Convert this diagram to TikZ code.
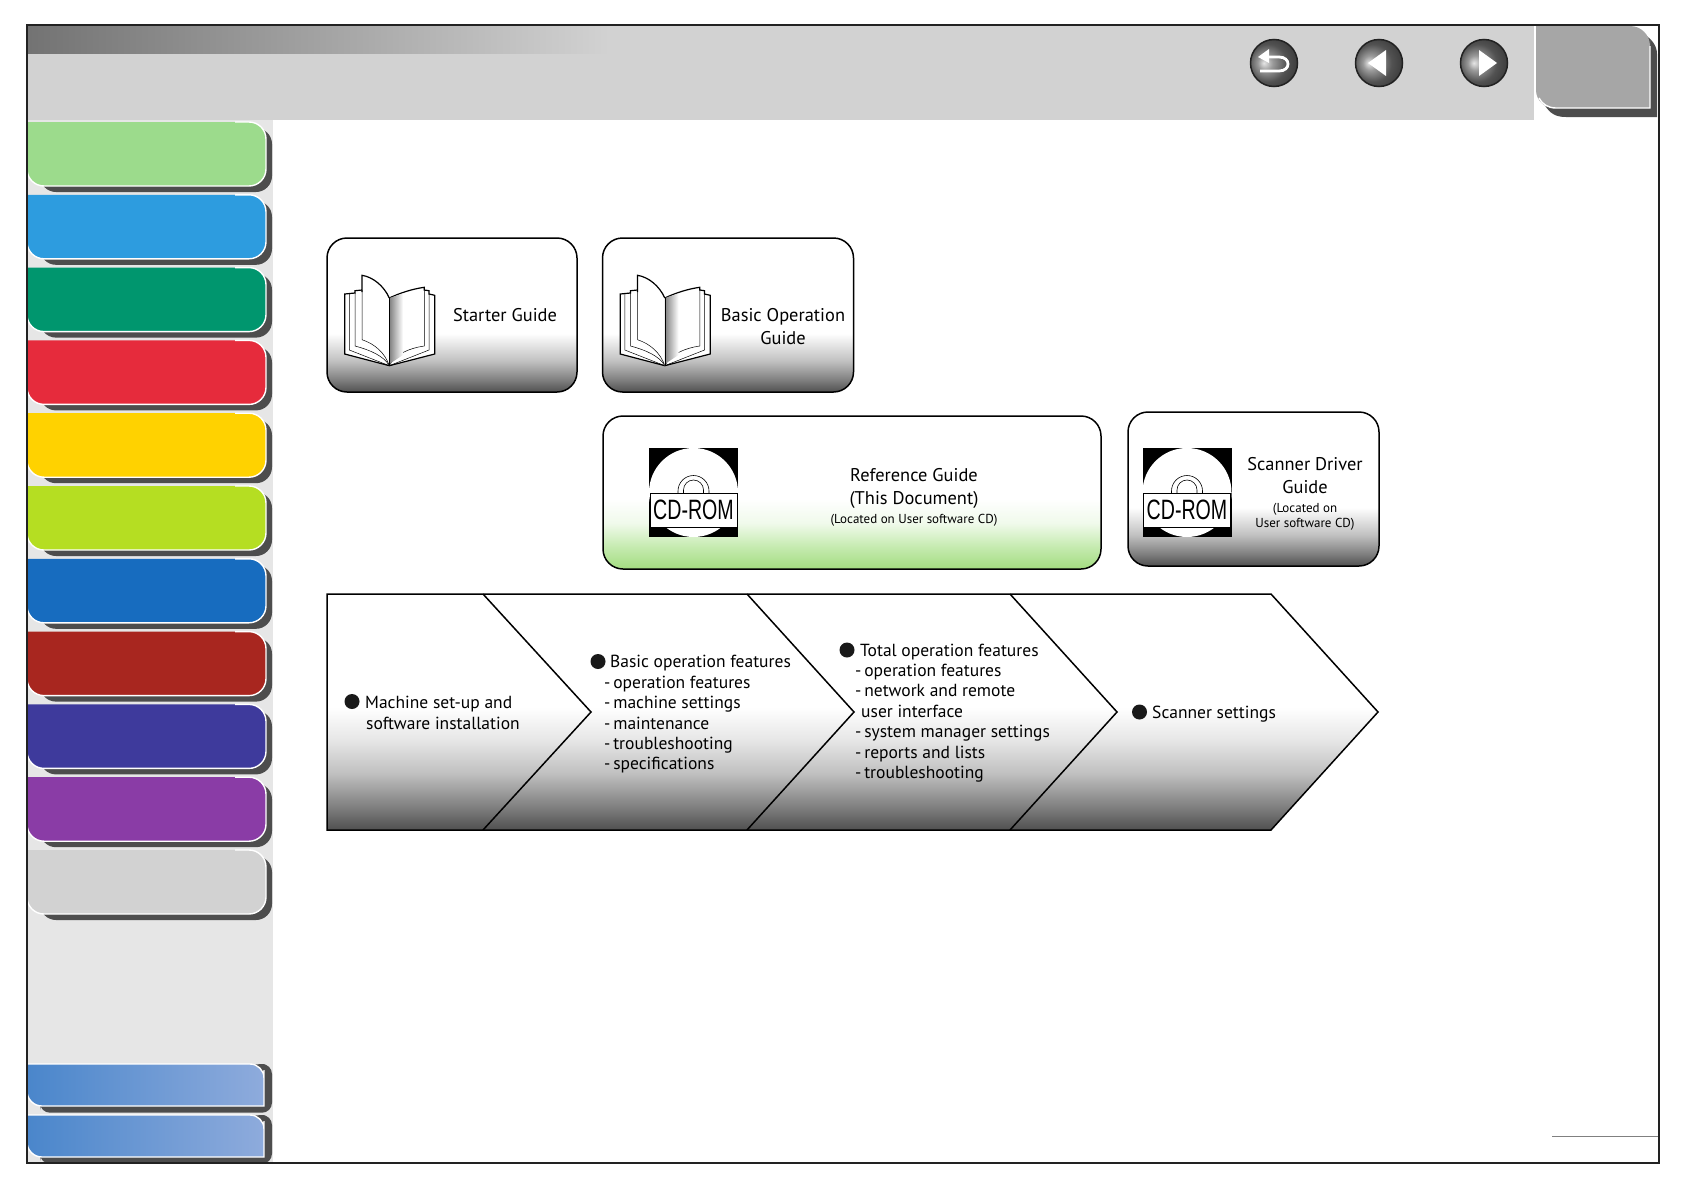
\documentclass[tikz,border=0pt]{standalone}
\usepackage{fontspec}
\setmainfont{PT Sans}
\newfontfamily\cdfont{Liberation Sans}
\definecolor{headgray}{HTML}{D2D2D2}
\definecolor{sidegray}{HTML}{E6E6E6}
\definecolor{tabshadow}{HTML}{4D4D4D}
\definecolor{framecol}{HTML}{222222}
\definecolor{tabmint}{HTML}{9CDB8C}
\definecolor{tabsky}{HTML}{2D9CDF}
\definecolor{tabteal}{HTML}{00966E}
\definecolor{tabred}{HTML}{E62B3C}
\definecolor{tabyellow}{HTML}{FFD200}
\definecolor{tablime}{HTML}{B5DE22}
\definecolor{tabblue}{HTML}{176CBF}
\definecolor{tabbrick}{HTML}{A8261F}
\definecolor{tabindigo}{HTML}{3E3A9C}
\definecolor{tabviolet}{HTML}{8A3CA6}
\definecolor{bluedeep}{HTML}{4A86CB}
\definecolor{bluemid}{HTML}{5B90D0}
\definecolor{bluepale}{HTML}{8EABDC}
\definecolor{fadeA}{HTML}{505050}
\definecolor{fadeB}{HTML}{808080}
\definecolor{fadeC}{HTML}{C0C0C0}
\definecolor{fadeD}{HTML}{E6E6E6}
\definecolor{greenA}{HTML}{A3DC80}
\definecolor{greenB}{HTML}{C4EAAE}
\definecolor{greenC}{HTML}{F0FAEB}
\pgfdeclareverticalshading{guidefade}{100bp}{color(0bp)=(fadeA); color(25bp)=(fadeA); color(29bp)=(fadeB); color(35bp)=(fadeC); color(44bp)=(white); color(100bp)=(white)}
\pgfdeclareverticalshading{stagefade}{100bp}{color(0bp)=(fadeA); color(25bp)=(fadeA); color(30bp)=(fadeB); color(37bp)=(fadeC); color(44bp)=(fadeD); color(51bp)=(white); color(100bp)=(white)}
\pgfdeclareverticalshading{greenfade}{100bp}{color(0bp)=(greenA); color(25bp)=(greenA); color(32bp)=(greenB); color(40bp)=(greenC); color(48bp)=(white); color(100bp)=(white)}
\pgfdeclareradialshading{btnglow}{\pgfpoint{-11bp}{0bp}}{color(0bp)=(black!10); color(8bp)=(black!40); color(20bp)=(black!68); color(34bp)=(black!80); color(50bp)=(black!80)}
\tikzset{
  guidebox/.style={draw=black,line width=1.5pt,rounded corners=20pt,shading=guidefade,inner sep=0pt},
  greenbox/.style={guidebox,shading=greenfade},
  guidetext/.style={align=center,inner sep=0pt,font=\fontsize{18.4}{23}\selectfont},
  smalltext/.style={align=center,inner sep=0pt,font=\fontsize{13}{15}\selectfont},
  stagetext/.style={align=left,anchor=west,inner sep=0pt,font=\fontsize{17.5}{20.4}\selectfont},
  stagedot/.style={circle,fill=black!90,inner sep=0pt,minimum size=15pt},
  navbtn/.style={circle,draw=framecol,line width=1.5pt,inner sep=0pt,minimum size=47pt,shading=btnglow},
  tabedge/.style={draw=white,line width=1.4pt},
  pics/bookicon/.style={code={
    \filldraw[fill=white,line width=1.2pt] (4.7,26) -- (4.7,86) -- (49.3,97.7) -- (94.7,86) -- (94.7,27.3) -- (89,26) -- (89,22.7) -- (84.3,22) -- (84.3,19.3) .. controls (72,21) and (60,25) .. (49.3,30) -- (22,22) -- (15,22.7) -- (15,25) -- (4.7,26) -- cycle;
    \draw[line width=.5pt] (9.3,26) -- (9.3,82) -- (49.3,97.7);
    \draw[line width=.5pt] (15,25) -- (15,78) .. controls (30,82) and (44,88) .. (49.3,97.7);
    \draw[line width=.5pt] (89,26) -- (89,82) -- (49.3,97.7);
    \draw[line width=.5pt] (84.3,22) -- (84.3,78) .. controls (70,80) and (55,86) .. (49.3,97.7);
    \fill[white] (22,7.3) .. controls (33,9) and (44,18) .. (49.3,30) -- (49.3,97.7) .. controls (45,85) and (35,76) .. (22,71.7) -- cycle;
    \shade[left color=black!50,right color=white] (49.3,30) -- (63,25.5) -- (63,87) -- (49.3,96) -- cycle;
    \draw[line width=.5pt] (22,22) -- (22,71.7) .. controls (35,76) and (45,85) .. (49.3,97.7);
    \draw[line width=1.2pt,line join=miter] (22,24) -- (22,7.3) .. controls (33,9) and (44,18) .. (49.3,30);
    \draw[line width=.5pt] (49.3,30) -- (49.3,97.7);
  }},
  pics/cdicon/.style={code={
    \fill[black] (0,0) rectangle (89,89);
    \fill[white] (44.5,44.5) circle[radius=44.5];
    \draw[line width=.6pt] (29,45) -- (29,43) arc[start angle=180,end angle=360,radius=15.5] -- (60,45);
    \draw[line width=.6pt] (34.5,45) -- (34.5,42) arc[start angle=180,end angle=360,radius=10] -- (54.5,45);
    \filldraw[fill=white,draw=black,line width=.8pt] (1,45) rectangle (88,79);
    \node[inner sep=0pt,xscale=.7,transform shape,font=\cdfont\fontsize{28}{28}\selectfont] (-label) at (44.5,62) {CD-ROM};
  }}
}
\newcommand{\sidetab}[2]{
  \fill[tabshadow,rounded corners=16pt] (40,#1+10) -- (272,#1+6) -- (272,#1+70) -- (40,#1+70) -- cycle;
  \fill[#2,rounded corners=17pt] (27,#1) -- (266,#1) -- (266,#1+64) -- (27,#1+64) -- (27,#1+40) [sharp corners] -- (27,#1) -- cycle;
  \draw[tabedge,rounded corners=17pt] (235,#1) -- (266,#1) -- (266,#1+64) -- (27,#1+64) -- (27,#1+40);
}
\newcommand{\bluetab}[1]{
  \fill[tabshadow,rounded corners=10pt] (40,#1+36) -- (40,#1+48.7) -- (272,#1+48.7) -- (272,#1) -- (255,#1) -- cycle;
  \shade[left color=bluedeep,middle color=bluemid,right color=bluepale,rounded corners=14pt,draw=white,line width=1.4pt] (27,#1) -- (264,#1) -- (264,#1+20) [sharp corners] -- (264,#1+42) [rounded corners=15pt] -- (27,#1+42) -- (27,#1+22) [sharp corners] -- (27,#1) -- cycle;
}
\newcommand{\subdash}{-\hspace{2.8pt}}
\begin{document}
\begin{tikzpicture}[x=1pt,y=-1pt]
\useasboundingbox (0,0) rectangle (1684,1191);
\fill[white] (0,0) rectangle (1684,1191);

\fill[headgray] (27,25) rectangle (1534,120);
\shade[left color=black!55,right color=headgray] (27,25) rectangle (610,53);
\fill[sidegray] (27,120) rectangle (273,1163);

\sidetab{122}{tabmint}
\sidetab{194.8}{tabsky}
\sidetab{267.6}{tabteal}
\sidetab{340.4}{tabred}
\sidetab{413.2}{tabyellow}
\sidetab{486}{tablime}
\sidetab{558.8}{tabblue}
\sidetab{631.6}{tabbrick}
\sidetab{704.4}{tabindigo}
\sidetab{777.2}{tabviolet}
\sidetab{850}{headgray}
\bluetab{1064}
\bluetab{1115}

\fill[tabshadow] (1640,32) .. controls (1652,38) and (1657,46) .. (1657,54) -- (1657,117) -- (1566,117) .. controls (1556,117) and (1550,114) .. (1544,104) -- cycle;
\fill[black!35,rounded corners=20pt] (1536,26) -- (1650,26) -- (1650,60) [sharp corners] -- (1650,108) [rounded corners=18pt] -- (1536,108) -- (1536,70) [sharp corners] -- (1536,26) -- cycle;
\draw[tabedge] (1650,46) -- (1650,108) -- (1556,108) .. controls (1548,108) and (1542,104) .. (1539,98);

\node[navbtn] (backbtn) at (1274,63) {};
\node[navbtn] (prevbtn) at (1379,63) {};
\node[navbtn] (nextbtn) at (1484,63) {};
\fill[white] (1258,57) -- (1269,49) -- (1269,63) -- cycle;
\draw[white,line width=2.8pt] (1267,57) -- (1279,57) .. controls (1291,57) and (1291,71) .. (1279,71) -- (1260,71);
\fill[white] (1368,63) -- (1386,50) -- (1386,76) -- cycle;
\fill[white] (1497,63) -- (1479,50) -- (1479,76) -- cycle;

\node[guidebox,minimum width=250pt,minimum height=154pt] (starterbox) at (452,315) {};
\node[guidebox,minimum width=251pt,minimum height=154pt] (basicbox) at (728,315) {};
\node[greenbox,minimum width=498pt,minimum height=153pt] (refbox) at (852,492.5) {};
\node[guidebox,minimum width=251pt,minimum height=154pt] (scanbox) at (1253.5,489) {};

\pic (starterbook) at (340,268) {bookicon};
\pic (basicbook) at (615.5,268) {bookicon};
\pic (refcd) at (649,448) {cdicon};
\pic (scancd) at (1142.5,448) {cdicon};

\node[guidetext] (startertext) at (505,315) {Starter Guide};
\node[guidetext] (basictext) at (783,326.5) {Basic Operation\\Guide};
\node[guidetext] (reftext) at (914,488.5) {Reference Guide\\(This Document)};
\node[smalltext] (refnote) at (914,520.5) {(Located on User software CD)};
\node[guidetext] (scantext) at (1305,476) {Scanner Driver\\Guide};
\node[smalltext] (scannote) at (1305,516.5) {(Located on\\User software CD)};

\shade[shading=stagefade,draw=black,line width=1.5pt] (327,594) -- (1271,594) -- (1378,712) -- (1271,830) -- (327,830) -- cycle;
\coordinate (stageA) at (483,594);
\coordinate (stageB) at (747,594);
\coordinate (stageC) at (1010,594);
\coordinate (tipA) at (591,712);
\coordinate (tipB) at (854,712);
\coordinate (tipC) at (1117,712);
\coordinate (footA) at (483,830);
\coordinate (footB) at (747,830);
\coordinate (footC) at (1010,830);
\draw[line width=1.5pt] (stageA) -- (tipA) -- (footA);
\draw[line width=1.5pt] (stageB) -- (tipB) -- (footB);
\draw[line width=1.5pt] (stageC) -- (tipC) -- (footC);

\node[stagedot] (dotA) at (352,701.5) {};
\node[stagetext] (textA) at (365,713) {Machine set-up and\\\hspace*{1pt}software installation};
\node[stagedot] (dotB) at (598,661.5) {};
\node[stagetext] (textB) at (604,714.5) {\hspace*{6pt}Basic operation features\\\subdash operation features\\\subdash machine settings\\\subdash maintenance\\\subdash troubleshooting\\\subdash specifications};
\node[stagedot] (dotC) at (847,650) {};
\node[stagetext] (textC) at (855,713) {\hspace*{5pt}Total operation features\\\subdash operation features\\\subdash network and remote\\\hspace*{6pt}user interface\\\subdash system manager settings\\\subdash reports and lists\\\subdash troubleshooting};
\node[stagedot] (dotD) at (1139.5,712) {};
\node[stagetext] (textD) at (1152,714) {Scanner settings};

\draw[black!50,line width=.6pt] (1552,1136) -- (1659,1136);
\draw[framecol,line width=2pt] (27,25) rectangle (1659,1163);
\end{tikzpicture}
\end{document}
